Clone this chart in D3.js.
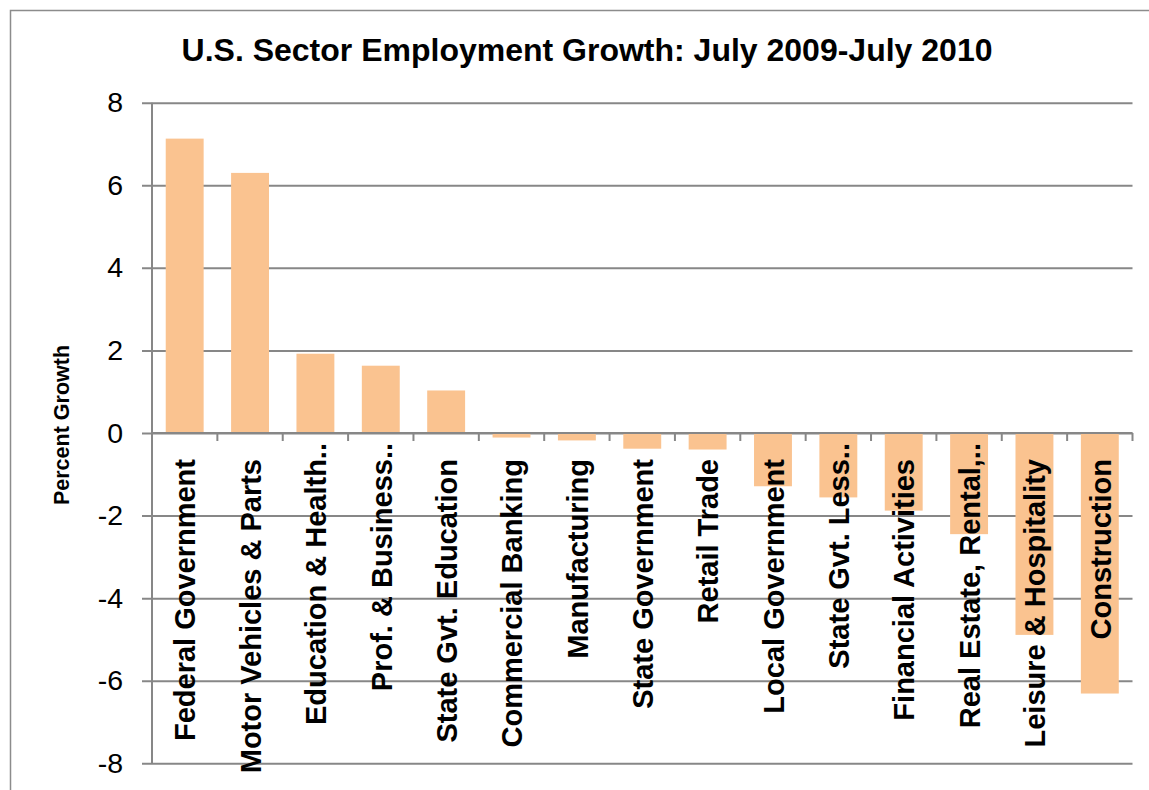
<!DOCTYPE html>
<html>
<head>
<meta charset="utf-8">
<script src="https://cdn.jsdelivr.net/npm/d3@7"></script>
<style>
  html, body { margin: 0; padding: 0; background: #fff; }
  svg { display: block; }
  text { font-family: "Liberation Sans", Arial, sans-serif; }
</style>
</head>
<body>
<svg id="chart" width="1149" height="790"></svg>
<script>
const title = "U.S. Sector Employment Growth: July 2009-July 2010";
const yAxisTitle = "Percent Growth";
const categories = [
  "Federal Government", "Motor Vehicles & Parts", "Education & Health..",
  "Prof. & Business..", "State Gvt. Education", "Commercial Banking",
  "Manufacturing", "State Government", "Retail Trade", "Local Government",
  "State Gvt. Less..", "Financial Activities", "Real Estate, Rental,..",
  "Leisure & Hospitality", "Construction"
];
const growth = [7.13, 6.30, 1.92, 1.63, 1.03, -0.11, -0.18, -0.38, -0.40, -1.29, -1.56, -1.88, -2.45, -4.89, -6.31];
const yTicks = [-8, -6, -4, -2, 0, 2, 4, 6, 8];

const svg = d3.select("#chart");
const plot = { left: 152, right: 1132.5, top: 102.7, bottom: 763.3 };
const gridColor = "#878787";
const barColor = "#FAC390";

// outer frame
svg.append("rect")
  .attr("x", 10.5).attr("y", 10.5)
  .attr("width", 1160).attr("height", 800)
  .attr("fill", "none").attr("stroke", "#8c8c8c").attr("stroke-width", 1.5);

const x = d3.scaleBand()
  .domain(categories)
  .range([plot.left, plot.right])
  .paddingInner(0.42)
  .paddingOuter(0.21);

const y = d3.scaleLinear().domain([-8, 8]).range([plot.bottom, plot.top]);

// y axis with gridlines
const yAxis = d3.axisLeft(y)
  .tickValues(yTicks)
  .tickSize(-(plot.right - plot.left))
  .tickPadding(20)
  .tickFormat(d => String(d));

const gy = svg.append("g")
  .attr("transform", `translate(${plot.left},0)`)
  .call(yAxis);
gy.select(".domain").remove();
gy.selectAll(".tick line")
  .attr("x1", -10)
  .attr("stroke", gridColor).attr("stroke-width", 2);
gy.selectAll(".tick text")
  .attr("x", -29)
  .attr("font-size", "28.5px")
  .attr("fill", "#000")
  .style("font-family", "'Liberation Sans', Arial, sans-serif");

// y axis line
svg.append("line")
  .attr("x1", plot.left).attr("x2", plot.left)
  .attr("y1", plot.top).attr("y2", plot.bottom)
  .attr("stroke", gridColor).attr("stroke-width", 2);

// bars
svg.append("g").selectAll("rect")
  .data(categories.map((c, i) => ({ c, v: growth[i] })))
  .join("rect")
  .attr("x", d => x(d.c))
  .attr("width", x.bandwidth())
  .attr("y", d => y(Math.max(0, d.v)))
  .attr("height", d => Math.abs(y(d.v) - y(0)))
  .attr("fill", barColor);

// x axis line (zero) with category boundary ticks
svg.append("line")
  .attr("x1", plot.left).attr("x2", plot.right)
  .attr("y1", y(0)).attr("y2", y(0))
  .attr("stroke", gridColor).attr("stroke-width", 2);
const step = x.step();
const boundaries = d3.range(categories.length + 1);
svg.append("g").selectAll("line")
  .data(boundaries)
  .join("line")
  .attr("x1", i => x(categories[0]) - x.paddingOuter() * step + i * step)
  .attr("x2", i => x(categories[0]) - x.paddingOuter() * step + i * step)
  .attr("y1", y(0)).attr("y2", y(0) + 8)
  .attr("stroke", gridColor).attr("stroke-width", 2);

// category labels
svg.append("g").selectAll("text")
  .data(categories)
  .join("text")
  .attr("transform", c => `translate(${x(c) + x.bandwidth() / 2},${c.endsWith("..") ? 443 : 459}) rotate(-90)`)
  .attr("dy", "0.37em")
  .attr("text-anchor", "end")
  .attr("font-size", "29px")
  .attr("font-weight", "bold")
  .attr("fill", "#000")
  .text(c => c);

// title
svg.append("text")
  .attr("x", 587).attr("y", 61)
  .attr("text-anchor", "middle")
  .attr("font-size", "32px")
  .attr("font-weight", "bold")
  .attr("fill", "#000")
  .text(title);

// y axis title
svg.append("text")
  .attr("transform", "translate(69,425) rotate(-90)")
  .attr("text-anchor", "middle")
  .attr("font-size", "21.5px")
  .attr("font-weight", "bold")
  .attr("fill", "#000")
  .text(yAxisTitle);
</script>
</body>
</html>
